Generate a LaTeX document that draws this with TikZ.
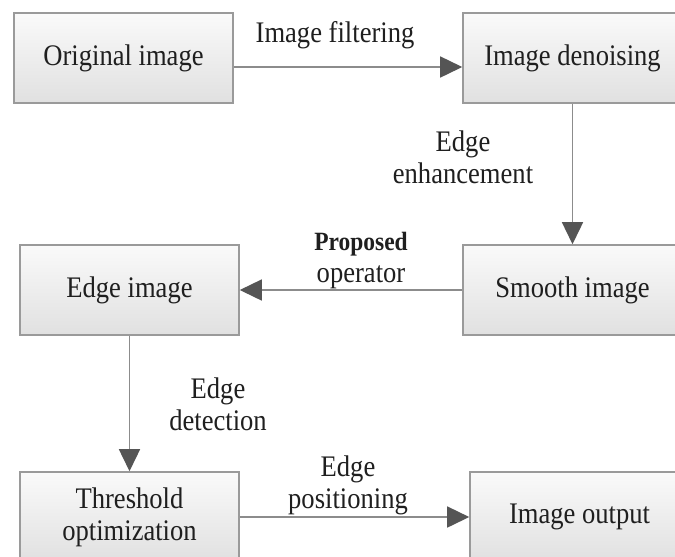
\documentclass[tikz,border=0pt]{standalone}
\usepackage{fontspec}
\setmainfont{Liberation Serif}[FakeStretch=0.89]
\usetikzlibrary{arrows.meta}
\definecolor{boxline}{HTML}{9A9A9A}
\definecolor{arrline}{HTML}{8C8C8C}
\definecolor{tipfill}{HTML}{555555}
\newcommand{\flowfont}{\fontsize{17}{18.2}\selectfont}
\tikzset{
  box/.style={draw=boxline, line width=0.9pt, top color=white!98!black, bottom color=white!88!black,
    minimum width=4.38cm, minimum height=1.8cm, align=center, inner sep=0pt, font=\flowfont, text=black!88},
  lbl/.style={align=center, inner sep=0pt, font=\flowfont, text=black!88},
  arr/.style={draw=arrline, line width=0.85pt, -{Triangle[length=0.44cm, width=0.42cm, color=tipfill]}},
}

\begin{document}
\begin{tikzpicture}[x=0.02cm, y=-0.02cm]
        \clip (0,0) rectangle (675,556);
        \node[box] (orig)    at (123.5,58)  {Original image};
        \node[box] (denoise) at (572.5,58)  {Image denoising};
        \node[box] (smooth)  at (572.5,290) {Smooth image};
        \node[box] (edgeimg) at (129.5,290) {Edge image};
        \node[box] (thresh)  at (129.5,517) {Threshold\\optimization};
        \node[box] (output)  at (579.5,517) {Image output};
        \node[lbl] (filt) at (335,35)  {Image filtering};
        \node[lbl] (enh)  at (463,157) {Edge\\enhancement};
        \node[lbl] (prop) at (361,261) {{\fontsize{15}{16}\selectfont\bfseries Proposed}\\operator};
        \node[lbl] (det)  at (218,404) {Edge\\detection};
        \node[lbl] (pos)  at (348,485) {Edge\\positioning};
        \draw[arr] ([yshift=-0.18cm]orig.east) -- ([yshift=-0.18cm]denoise.west);
        \draw[arr] (denoise) -- (smooth);
        \draw[arr] (smooth) -- (edgeimg);
        \draw[arr] (edgeimg) -- (thresh);
        \draw[arr] (thresh) -- (output);
    \end{tikzpicture}
\end{document}
